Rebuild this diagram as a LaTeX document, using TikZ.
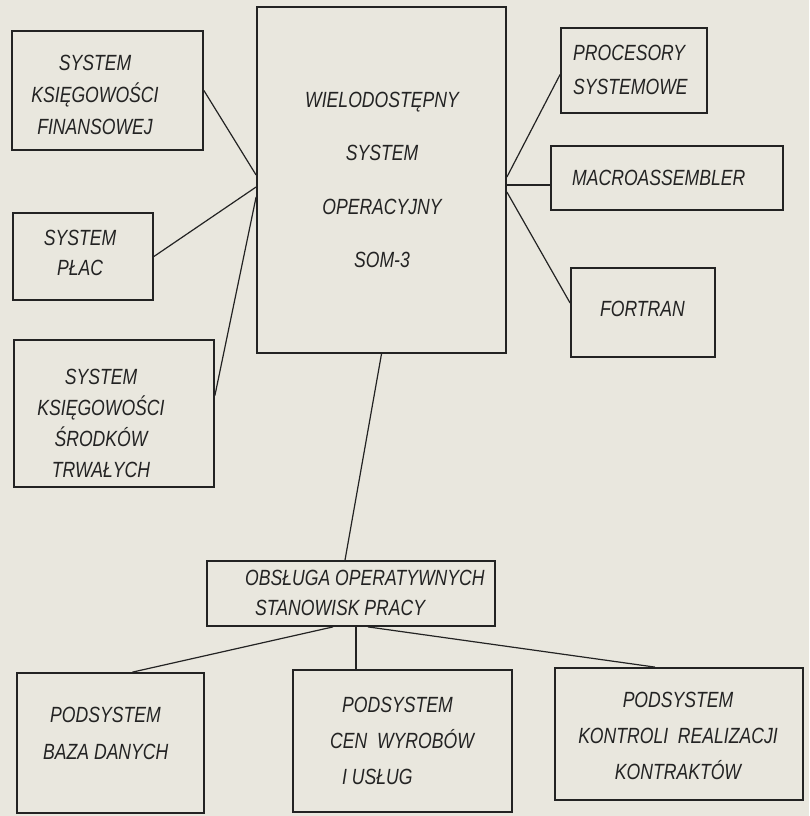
\documentclass[tikz,border=0pt]{standalone}
\usepackage{fontspec}
\setmainfont{Liberation Sans}[FakeStretch=0.8]
\definecolor{paper}{RGB}{233,231,222}
\definecolor{ink}{RGB}{35,35,35}
\begin{document}
\begin{tikzpicture}[x=1pt,y=-1pt,
  box/.style={draw=ink, line width=1.8pt, inner sep=0pt},
  txt/.style={inner sep=0pt, text=ink, font=\fontsize{22}{#1}\selectfont\itshape, align=center},
  txt/.default=32,
  txtl/.style={txt=#1, align=left, anchor=west},
  txtl/.default=32,
  conn/.style={draw=ink, line width=1.2pt}]
\fill[paper] (0,0) rectangle (809,816);
\useasboundingbox (0,0) rectangle (809,816);

% boxes
\node[box, minimum width=191pt, minimum height=119pt] (fin)    at (107.5,90.5) {};
\node[box, minimum width=140pt, minimum height=87pt]  (placy)  at (83,256.5) {};
\node[box, minimum width=200pt, minimum height=147pt] (srodki) at (114,413.5) {};
\node[box, minimum width=249pt, minimum height=346pt] (som)    at (381.5,180) {};
\node[box, minimum width=146pt, minimum height=85pt]  (proc)   at (634,70.5) {};
\node[box, minimum width=232pt, minimum height=64pt]  (macro)  at (667,178) {};
\node[box, minimum width=144pt, minimum height=89pt]  (fortran) at (643,312.5) {};
\node[box, minimum width=288pt, minimum height=65pt]  (obsl)   at (351,593.5) {};
\node[box, minimum width=187pt, minimum height=140pt] (baza)   at (110.5,743) {};
\node[box, minimum width=219pt, minimum height=142pt] (cen)    at (402.5,741) {};
\node[box, minimum width=248pt, minimum height=132pt] (kontr)  at (679,734) {};

% texts
\node[txt=32] (fin-t) at (95,95) {SYSTEM\\KSIĘGOWOŚCI\\FINANSOWEJ};
\node[txt=30] (placy-t) at (80,253) {SYSTEM\\PŁAC};
\node[txt=31] (srodki-t) at (101,423.5) {SYSTEM\\KSIĘGOWOŚCI\\ŚRODKÓW\\TRWAŁYCH};
\node[txt=53.3] (som-t) at (382,180) {WIELODOSTĘPNY\\SYSTEM\\OPERACYJNY\\SOM-3};
\node[txtl=34] (proc-t) at (573,70) {PROCESORY\\SYSTEMOWE};
\node[txtl=32] (macro-t) at (572,178) {MACROASSEMBLER};
\node[txt=32] (fortran-t) at (642.5,309) {FORTRAN};
\node[txtl=30] (obsl-t) at (245,593) {OBSŁUGA OPERATYWNYCH\\\hspace*{10pt}STANOWISK PRACY};
\node[txtl=37] (baza-t) at (43,733.5) {\hspace*{7pt}PODSYSTEM\\BAZA DANYCH};
\node[txtl=36] (cen-t) at (330,741) {\hspace*{12pt}PODSYSTEM\\CEN~~WYROBÓW\\\hspace*{12pt}I USŁUG};
\node[txt=36] (kontr-t) at (678,736) {PODSYSTEM\\KONTROLI~~REALIZACJI\\KONTRAKTÓW};

% connectors left
\draw[conn] (fin.east) -- ([yshift=5pt]som.west);
\draw[conn] (placy.east) -- ([yshift=-7pt]som.west);
\draw[conn] ([yshift=18pt]srodki.east) -- ([yshift=-17pt]som.west);
% connectors right
\draw[conn] ([yshift=3pt]som.east) -- ([yshift=-4pt]proc.west);
\draw[conn] ([yshift=-5pt]som.east) -- ([yshift=-7pt]macro.west);
\draw[conn] ([yshift=-12pt]som.east) -- ([yshift=9.5pt]fortran.west);
% down
\draw[conn] (som.south) -- ([xshift=-6pt]obsl.north);
\draw[conn] ([xshift=-18pt]obsl.south) -- ([xshift=22pt]baza.north);
\draw[conn] ([xshift=5pt]obsl.south) -- ([xshift=5pt]obsl.south |- cen.north);
\draw[conn] ([xshift=17pt]obsl.south) -- ([xshift=-24pt]kontr.north);
\end{tikzpicture}
\end{document}
